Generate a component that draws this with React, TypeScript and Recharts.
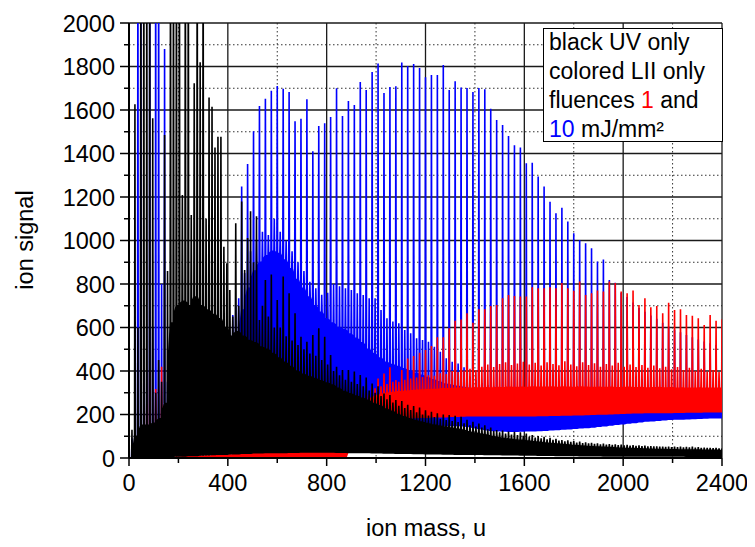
import React from 'react';
import { ComposedChart, Area, XAxis, YAxis, CartesianGrid } from 'recharts';

// Mass grid: C2 spacing (24 u); a secondary peak sits 12 u after each main one.
const MASS_STEP = 24;
const SUB_OFFSET = 12;
const SPIKE_HALF = 1.5;

const X_TICKS = [0, 200, 400, 600, 800, 1000, 1200, 1400, 1600, 1800, 2000, 2200, 2400];
const X_LABELED = [0, 400, 800, 1200, 1600, 2000, 2400];
const Y_TICKS = [0, 100, 200, 300, 400, 500, 600, 700, 800, 900, 1000, 1100, 1200, 1300, 1400, 1500, 1600, 1700, 1800, 1900, 2000];
const Y_LABELED = [0, 200, 400, 600, 800, 1000, 1200, 1400, 1600, 1800, 2000];
const X_DOTTED = [200, 600, 1000, 1400, 1800, 2200];
const Y_DOTTED = [100, 300, 500, 700, 900, 1100, 1300, 1500, 1700, 1900];

// ---- 10 mJ/mm² (blue) ----
const BLUE_PEAK = [
  0, 200, 2600, 400, 600, 2600, 1880, 200, 150, 150,
  150, 150, 200, 250, 300, 350, 450, 550, 700, 1248,
  1352, 1502, 1618, 1652, 1689, 1710, 1698, 1683, 1548, 1560,
  1649, 1410, 1526, 1539, 1568, 1700, 1572, 1641, 1623, 1729,
  1692, 1775, 1814, 1678, 1706, 1709, 1818, 1802, 1811, 1793,
  1750, 1761, 1761, 1807, 1692, 1732, 1704, 1701, 1683, 1701,
  1695, 1606, 1554, 1531, 1480, 1438, 1428, 1355, 1358, 1294,
  1248, 1178, 1125, 1150, 1087, 1033, 1002, 987, 964, 903,
  913, 818, 806, 760, 740, 715, 690, 672, 655, 640,
  622, 605, 590, 578, 566, 555, 545, 536, 528, 520, 512,
];
const BLUE_SUB = [
  90, 2600, 400, 2600, 2600, 800, 350, 180, 150, 150,
  150, 150, 200, 250, 300, 350, 500, 657, 735, 850,
  950, 1000, 1040, 1025, 1100, 1040, 1000, 950, 900, 860,
  810, 780, 750, 760, 800, 790, 780, 772, 757, 749,
  734, 734, 680, 642, 627, 619, 588, 573, 550, 542,
  534, 511, 488, 458, 443, 435, 417, 374, 359, 345,
  335, 330, 326, 322, 318, 315, 312, 310, 312, 308,
  306, 305, 304, 306, 303, 302, 300, 302, 300, 298,
  300, 298, 297, 299, 296, 297, 295, 296, 294, 295,
  294, 293, 295, 292, 293, 291, 292, 290, 291, 290, 290,
];
const BLUE_TOP = [
  0, 0, 0, 0, 0, 0, 0, 120, 110, 110,
  110, 120, 140, 160, 190, 220, 260, 350, 500, 680,
  780, 860, 900, 930, 950, 940, 910, 870, 820, 780,
  740, 700, 670, 640, 620, 600, 590, 570, 550, 530,
  500, 480, 460, 440, 430, 420, 410, 400, 390, 380,
  370, 360, 350, 340, 335, 330, 325, 320, 315, 310,
  305, 300, 300, 298, 296, 295, 294, 293, 292, 291,
  290, 290, 289, 289, 288, 288, 287, 287, 286, 286,
  285, 285, 284, 284, 283, 283, 282, 282, 281, 281,
  280, 280, 280, 280, 280, 280, 280, 280, 280, 280, 280,
];
const BLUE_LOW = [
  0, 0, 0, 0, 0, 0, 0, 50, 50, 50,
  50, 50, 50, 50, 50, 50, 50, 50, 50, 50,
  50, 50, 50, 50, 50, 50, 50, 50, 50, 50,
  50, 50, 50, 50, 50, 50, 50, 150, 150, 150,
  150, 150, 150, 150, 150, 150, 150, 150, 150, 150,
  150, 150, 150, 150, 150, 150, 148, 145, 140, 135,
  130, 127, 125, 124, 123, 123, 124, 125, 126, 127,
  128, 130, 131, 133, 135, 137, 139, 141, 143, 146,
  149, 152, 155, 158, 161, 164, 167, 170, 172, 174,
  176, 178, 179, 180, 181, 182, 183, 184, 185, 185, 185,
];

// ---- 1 mJ/mm² (red) ----
const RED_PEAK = [
  0, 0, 0, 250, 0, 0, 0, 5, 6, 8,
  10, 12, 14, 16, 18, 20, 23, 25, 27, 30,
  32, 35, 38, 41, 44, 47, 50, 53, 56, 58,
  60, 62, 64, 68, 80, 110, 140, 180, 220, 270,
  300, 330, 366, 389, 417, 359, 405, 458, 469, 484,
  497, 515, 555, 555, 596, 631, 637, 665, 622, 684,
  684, 699, 703, 734, 749, 745, 743, 743, 785, 780,
  780, 785, 780, 805, 780, 769, 811, 749, 757, 770,
  765, 811, 805, 765, 757, 770, 703, 734, 693, 699,
  665, 714, 680, 684, 657, 654, 642, 611, 657, 631, 638,
];
const RED_SUB = [
  0, 0, 0, 405, 317, 420, 0, 4, 5, 7,
  9, 11, 13, 15, 17, 19, 21, 23, 26, 28,
  31, 34, 37, 40, 43, 46, 49, 52, 54, 57,
  59, 61, 63, 66, 75, 100, 130, 170, 210, 250,
  290, 320, 330, 340, 350, 350, 360, 365, 370, 372,
  380, 378, 390, 386, 400, 395, 402, 410, 405, 420,
  430, 418, 432, 440, 428, 435, 442, 430, 438, 425,
  440, 432, 426, 445, 430, 422, 440, 428, 436, 420,
  432, 425, 438, 420, 430, 418, 428, 415, 425, 412,
  420, 408, 418, 405, 415, 400, 410, 398, 405, 395, 400,
];
const RED_TOP = [
  0, 0, 0, 0, 0, 0, 0, 3, 4, 5,
  6, 7, 8, 9, 10, 11, 13, 14, 16, 18,
  20, 22, 24, 27, 30, 32, 35, 38, 40, 42,
  44, 46, 48, 52, 62, 90, 125, 165, 205, 240,
  262, 280, 290, 296, 300, 304, 306, 308, 310, 312,
  314, 315, 316, 318, 318, 320, 320, 321, 322, 322,
  323, 322, 324, 323, 325, 324, 325, 324, 326, 325,
  325, 326, 324, 326, 325, 324, 326, 325, 324, 325,
  324, 325, 323, 324, 325, 323, 324, 322, 323, 324,
  322, 323, 321, 322, 320, 321, 322, 320, 321, 320, 320,
];
const RED_LOW = [
  0, 0, 0, 0, 0, 0, 0, 0, 0, 0,
  0, 0, 0, 0, 0, 0, 0, 0, 0, 0,
  0, 0, 0, 0, 0, 0, 0, 0, 0, 0,
  0, 0, 0, 0, 0, 0, 0, 30, 60, 100,
  130, 150, 160, 170, 175, 180, 182, 184, 186, 188,
  188, 190, 190, 190, 192, 192, 193, 194, 194, 195,
  195, 195, 195, 195, 195, 195, 195, 195, 195, 196,
  196, 197, 197, 198, 198, 199, 199, 200, 201, 202,
  203, 204, 205, 206, 207, 208, 208, 209, 209, 210,
  210, 210, 211, 211, 212, 212, 212, 213, 213, 213, 213,
];

// ---- UV only (black) ----
const BLACK_PEAK = [
  0, 1626, 2600, 2600, 1562, 450, 1485, 2600, 2600, 1209,
  2600, 1723, 1819, 1100, 1615, 1477, 971, 772, 1079, 1179,
  1011, 900, 634, 818, 844, 726, 834, 757, 665, 558,
  535, 565, 596, 558, 474, 420, 405, 405, 398, 382,
  370, 343, 330, 297, 290, 267, 262, 245, 239, 232,
  220, 213, 206, 200, 198, 194, 190, 176, 166, 159,
  151, 140, 129, 126, 122, 121, 118, 113, 106, 101,
  97, 93, 88, 83, 81, 78, 75, 72, 70, 67,
  66, 64, 63, 62, 60, 59, 58, 57, 55, 54,
  52, 52, 53, 52, 51, 52, 50, 48, 47, 46, 44,
];
const BLACK_SUB = [
  130, 600, 2600, 2600, 300, 350, 860, 2600, 2600, 2600,
  1117, 2600, 2600, 1658, 1428, 1477, 895, 650, 700, 864,
  1134, 1111, 700, 650, 600, 600, 560, 540, 520, 500,
  480, 470, 450, 430, 400, 380, 360, 350, 340, 330,
  310, 300, 285, 270, 255, 240, 230, 220, 210, 200,
  195, 188, 180, 175, 170, 165, 160, 150, 145, 140,
  132, 125, 118, 112, 108, 105, 102, 98, 94, 90,
  86, 83, 80, 77, 74, 71, 69, 67, 65, 63,
  61, 60, 59, 58, 57, 56, 55, 54, 53, 52,
  51, 50, 50, 49, 49, 48, 47, 46, 45, 44, 43,
];
const BLACK_TOP = [
  0, 100, 150, 150, 160, 180, 250, 620, 700, 720,
  700, 740, 700, 680, 660, 640, 600, 560, 580, 560,
  540, 530, 510, 500, 480, 460, 440, 420, 400, 385,
  375, 365, 355, 345, 335, 320, 305, 295, 285, 275,
  265, 250, 240, 225, 215, 200, 190, 180, 172, 165,
  158, 152, 147, 142, 138, 133, 128, 120, 115, 110,
  105, 99, 93, 89, 86, 83, 81, 78, 75, 72,
  69, 66, 64, 62, 59, 57, 55, 53, 51, 50,
  49, 48, 46, 45, 44, 43, 42, 41, 40, 39,
  39, 38, 38, 37, 37, 36, 36, 35, 35, 35, 34,
];
const BLACK_LOW = [
  0, 0, 0, 0, 0, 0, 0, 8, 10, 10,
  12, 12, 14, 15, 16, 18, 18, 20, 20, 22,
  22, 24, 24, 25, 25, 26, 26, 27, 27, 28,
  28, 28, 28, 28, 28, 27, 27, 26, 26, 25,
  25, 24, 24, 23, 23, 22, 22, 22, 21, 21,
  20, 20, 20, 19, 19, 18, 18, 18, 17, 17,
  16, 16, 16, 15, 15, 15, 14, 14, 14, 13,
  13, 13, 12, 12, 12, 12, 11, 11, 11, 11,
  10, 10, 10, 10, 10, 10, 10, 9, 9, 9,
  9, 9, 9, 9, 8, 8, 8, 8, 8, 8, 8,
];

const FONT = "Arial, 'Liberation Sans', Helvetica, sans-serif";
const MASS_MAX = 2400;

type Row = { m: number; r: [number, number] };

function buildRows(peak: number[], sub: number[], top: number[], low: number[]): Row[] {
  const rows: Row[] = [];
  for (let i = 0; i < peak.length; i++) {
    const m = i * MASS_STEP;
    const lo = low[i];
    const tp = top[i];
    const pts: [number, number][] = [
      [m - SPIKE_HALF, tp],
      [m, peak[i]],
      [m + SPIKE_HALF, tp],
      [m + SUB_OFFSET - SPIKE_HALF, tp],
      [m + SUB_OFFSET, sub[i]],
      [m + SUB_OFFSET + SPIKE_HALF, tp],
    ];
    for (const [x, v] of pts) {
      if (x < 0 || x > MASS_MAX) continue;
      rows.push({ m: x, r: [lo, Math.max(v, lo)] });
    }
  }
  return rows;
}

const blueRows = buildRows(BLUE_PEAK, BLUE_SUB, BLUE_TOP, BLUE_LOW);
const redRows = buildRows(RED_PEAK, RED_SUB, RED_TOP, RED_LOW);
const blackRows = buildRows(BLACK_PEAK, BLACK_SUB, BLACK_TOP, BLACK_LOW);

const XTick = (props: any) => {
  const { x, y, payload } = props;
  const v = payload.value;
  const major = X_LABELED.includes(v);
  return (
    <g>
      <line x1={x} y1={y} x2={x} y2={y + (major ? 8 : 5)} stroke="#000" strokeWidth={1.5} />
      {major && (
        <text x={x} y={y + 33} textAnchor="middle" fontSize={23.5} fontFamily={FONT} fill="#000">
          {v}
        </text>
      )}
    </g>
  );
};

const YTick = (props: any) => {
  const { x, y, payload } = props;
  const v = payload.value;
  const major = Y_LABELED.includes(v);
  return (
    <g>
      <line x1={x - (major ? 9 : 5)} y1={y} x2={x} y2={y} stroke="#000" strokeWidth={1.5} />
      {major && (
        <text x={x - 14} y={y + 8.5} textAnchor="end" fontSize={23.5} fontFamily={FONT} fill="#000">
          {v}
        </text>
      )}
    </g>
  );
};

const SERIES_STROKE = 1.6;

export default function App() {
  return (
    <div style={{ position: 'relative', width: 747, height: 539 }}>
      <ComposedChart width={747} height={539} margin={{ top: 15, right: 33, bottom: 0, left: 0 }}>
        <CartesianGrid
          horizontalValues={Y_DOTTED}
          verticalValues={X_DOTTED}
          stroke="#333"
          strokeWidth={1}
          strokeDasharray="1.5 2.5"
        />
        <CartesianGrid
          horizontalValues={Y_LABELED.filter((v) => v > 0)}
          verticalValues={X_LABELED.filter((v) => v > 0)}
          stroke="#1a1a1a"
          strokeWidth={1.3}
        />
        <XAxis
          type="number"
          dataKey="m"
          domain={[0, MASS_MAX]}
          ticks={X_TICKS}
          interval={0}
          allowDataOverflow
          height={89}
          tickSize={0}
          tickMargin={0}
          tickLine={false}
          tick={<XTick />}
          axisLine={{ stroke: '#000', strokeWidth: 2 }}
        />
        <YAxis
          type="number"
          domain={[0, 2000]}
          ticks={Y_TICKS}
          interval={0}
          allowDataOverflow
          width={121}
          tickSize={0}
          tickMargin={0}
          tickLine={false}
          tick={<YTick />}
          axisLine={{ stroke: '#000', strokeWidth: 2 }}
        />
        <Area data={blueRows} dataKey="r" type="linear" stroke="#0000ff" strokeWidth={SERIES_STROKE} fill="#0000ff" fillOpacity={1} isAnimationActive={false} dot={false} activeDot={false} />
        <Area data={redRows} dataKey="r" type="linear" stroke="#ff0000" strokeWidth={SERIES_STROKE} fill="#ff0000" fillOpacity={1} isAnimationActive={false} dot={false} activeDot={false} />
        <Area data={blackRows} dataKey="r" type="linear" stroke="#000000" strokeWidth={SERIES_STROKE} fill="#000000" fillOpacity={1} isAnimationActive={false} dot={false} activeDot={false} />
      </ComposedChart>
      <svg width={747} height={539} style={{ position: 'absolute', left: 0, top: 0, pointerEvents: 'none' }}>
        <text x={17} y={232} transform="rotate(-90 17 232)" textAnchor="middle" dominantBaseline="central" fontSize={23.5} fontFamily={FONT} fill="#000">
          ion signal
        </text>
        <text x={418} y={528} textAnchor="middle" fontSize={23.5} fontFamily={FONT} fill="#000">
          ion mass, u
        </text>
        <rect x={535.5} y={20.5} width={179} height={113} fill="#fff" stroke="#000" strokeWidth={1} />
        <text x={541} y={42} fontSize={23} fontFamily={FONT} fill="#000">black UV only</text>
        <text x={541} y={71} fontSize={23} fontFamily={FONT} fill="#000">colored LII only</text>
        <text x={541} y={100} fontSize={23} fontFamily={FONT} fill="#000">
          fluences <tspan fill="#ff0000">1</tspan> and
        </text>
        <text x={541} y={129} fontSize={23} fontFamily={FONT} fill="#000">
          <tspan fill="#0000ff">10</tspan> mJ/mm²
        </text>
      </svg>
    </div>
  );
}
